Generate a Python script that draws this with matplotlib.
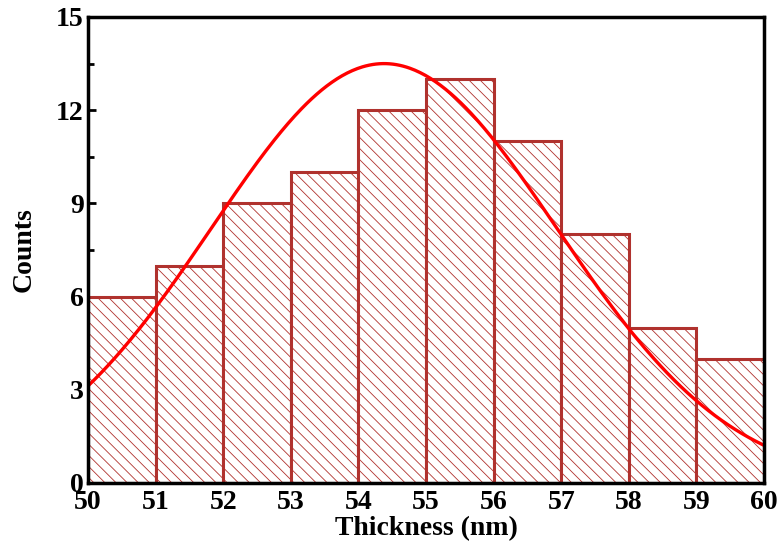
import numpy as np
import matplotlib
matplotlib.use('Agg')
import matplotlib.pyplot as plt
from matplotlib.ticker import MultipleLocator

# histogram data (bin left edges, counts)
bin_left = [50, 51, 52, 53, 54, 55, 56, 57, 58, 59]
counts = [6, 7, 9, 10, 12, 13, 11, 8, 5, 4]
bin_width = 1

# gaussian fit parameters
fit_amp = 13.5
fit_center = 54.38
fit_width = 2.56

plt.rcParams['font.family'] = ['Liberation Serif', 'DejaVu Serif']
plt.rcParams['font.weight'] = 'bold'
plt.rcParams['hatch.linewidth'] = 0.6

fig = plt.figure(figsize=(7.83, 5.54), dpi=100)
ax = fig.add_axes([88 / 783, 1 - 483 / 554, 676 / 783, 466 / 554])

bar_color = '#b0322e'
ax.bar(bin_left, counts, width=bin_width, align='edge', facecolor='white',
       edgecolor=bar_color, linewidth=2.2, hatch='\\' * 3, zorder=2)

xs = np.linspace(50, 60, 400)
ys = fit_amp * np.exp(-(xs - fit_center) ** 2 / (2 * fit_width ** 2))
ax.plot(xs, ys, color='#ff0000', linewidth=2.4, zorder=3)

ax.set_xlim(50, 60)
ax.set_ylim(0, 15)
ax.xaxis.set_major_locator(MultipleLocator(1))
ax.xaxis.set_minor_locator(MultipleLocator(0.5))
ax.yaxis.set_major_locator(MultipleLocator(3))
ax.yaxis.set_minor_locator(MultipleLocator(1.5))
ax.tick_params(which='both', direction='in', width=2, labelsize=20, pad=3)
ax.tick_params(axis='x', pad=5)
ax.tick_params(which='major', length=6)
ax.tick_params(which='minor', length=4)
for lab in ax.get_xticklabels() + ax.get_yticklabels():
    lab.set_fontweight('bold')
for sp in ax.spines.values():
    sp.set_linewidth(2.5)
    sp.set_zorder(5)

ax.set_xlabel('Thickness (nm)', fontsize=20, fontweight='bold', labelpad=1)
ax.set_ylabel('Counts', fontsize=20, fontweight='bold', labelpad=14)

fig.savefig('out.png', dpi=100)
